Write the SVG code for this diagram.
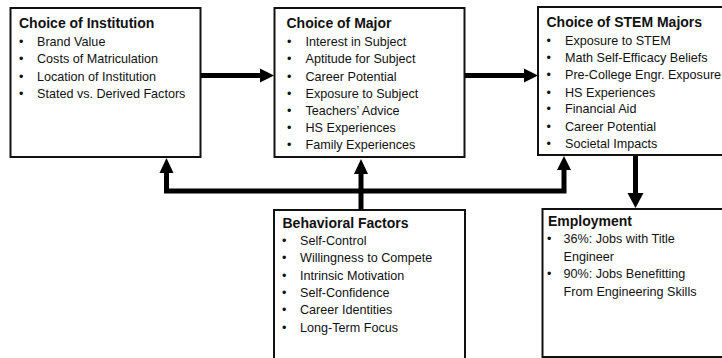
<svg xmlns="http://www.w3.org/2000/svg" width="722" height="358" viewBox="0 0 722 358">
<style>
.box{fill:#fff;stroke:#111;stroke-width:2}
.t{font-family:"Liberation Sans",Arial,sans-serif;font-size:14px;font-weight:bold;fill:#111}
.i{font-family:"Liberation Sans",Arial,sans-serif;font-size:12.6px;fill:#111}
.ln{fill:none;stroke:#000;stroke-width:5}
.hd{fill:#000}
</style>
<rect width="722" height="358" fill="#fff"/>
<g id="connectors">
<path class="ln" d="M201 75.5H262"/>
<polygon class="hd" points="260,68.5 274,75.5 260,82.5"/>
<path class="ln" d="M465 75.5H526"/>
<polygon class="hd" points="524,68.5 538,75.5 524,82.5"/>
<path class="ln" d="M166.5 172V191H564V169"/>
<polygon class="hd" points="159.5,173 166.5,158 173.5,173"/>
<path class="ln" d="M361 210V172"/>
<polygon class="hd" points="354,174 361,159 368,174"/>
<polygon class="hd" points="557,170 564,156 571,170"/>
<path class="ln" d="M635.5 155V195"/>
<polygon class="hd" points="627.5,193 635.5,208 643.5,193"/>
</g>
<g id="institution">
<rect class="box" x="10.5" y="8" width="190" height="149"/>
<text class="t" x="19" y="28">Choice of Institution</text>
<g class="i">
<text x="19" y="46">•</text><text x="37" y="46">Brand Value</text>
<text x="19" y="63.2">•</text><text x="37" y="63.2">Costs of Matriculation</text>
<text x="19" y="80.5">•</text><text x="37" y="80.5">Location of Institution</text>
<text x="19" y="97.7">•</text><text x="37" y="97.7">Stated vs. Derived Factors</text>
</g>
</g>
<g id="major">
<rect class="box" x="274.5" y="8" width="190" height="149"/>
<text class="t" x="286.5" y="28">Choice of Major</text>
<g class="i">
<text x="287" y="46">•</text><text x="305.5" y="46">Interest in Subject</text>
<text x="287" y="63.2">•</text><text x="305.5" y="63.2">Aptitude for Subject</text>
<text x="287" y="80.5">•</text><text x="305.5" y="80.5">Career Potential</text>
<text x="287" y="97.7">•</text><text x="305.5" y="97.7">Exposure to Subject</text>
<text x="287" y="114.5">•</text><text x="305.5" y="114.5">Teachers’ Advice</text>
<text x="287" y="131.7">•</text><text x="305.5" y="131.7">HS Experiences</text>
<text x="287" y="149">•</text><text x="305.5" y="149">Family Experiences</text>
</g>
</g>
<g id="stem">
<rect class="box" x="538" y="7" width="200" height="148"/>
<text class="t" x="546.5" y="26.7">Choice of STEM Majors</text>
<g class="i">
<text x="546.5" y="45">•</text><text x="565" y="45">Exposure to STEM</text>
<text x="546.5" y="62">•</text><text x="565" y="62">Math Self-Efficacy Beliefs</text>
<text x="546.5" y="79">•</text><text x="565" y="79">Pre-College Engr. Exposure</text>
<text x="546.5" y="96.5">•</text><text x="565" y="96.5">HS Experiences</text>
<text x="546.5" y="113.3">•</text><text x="565" y="113.3">Financial Aid</text>
<text x="546.5" y="130.5">•</text><text x="565" y="130.5">Career Potential</text>
<text x="546.5" y="147.7">•</text><text x="565" y="147.7">Societal Impacts</text>
</g>
</g>
<g id="behavioral">
<rect class="box" x="274" y="210" width="191" height="160"/>
<text class="t" x="282.5" y="227.5">Behavioral Factors</text>
<g class="i">
<text x="282" y="245">•</text><text x="300" y="245">Self-Control</text>
<text x="282" y="262.3">•</text><text x="300" y="262.3">Willingness to Compete</text>
<text x="282" y="279.7">•</text><text x="300" y="279.7">Intrinsic Motivation</text>
<text x="282" y="297">•</text><text x="300" y="297">Self-Confidence</text>
<text x="282" y="314.3">•</text><text x="300" y="314.3">Career Identities</text>
<text x="282" y="331.7">•</text><text x="300" y="331.7">Long-Term Focus</text>
</g>
</g>
<g id="employment">
<rect class="box" x="542.5" y="209" width="200" height="148" style="stroke:#111"/>
<text class="t" x="548" y="226">Employment</text>
<g class="i">
<text x="547" y="243.3">•</text><text x="563.5" y="243.3">36%: Jobs with Title</text>
<text x="563.5" y="260.8">Engineer</text>
<text x="547" y="278.2">•</text><text x="563.5" y="278.2">90%: Jobs Benefitting</text>
<text x="563.5" y="295.7">From Engineering Skills</text>
</g>
</g>
</svg>
